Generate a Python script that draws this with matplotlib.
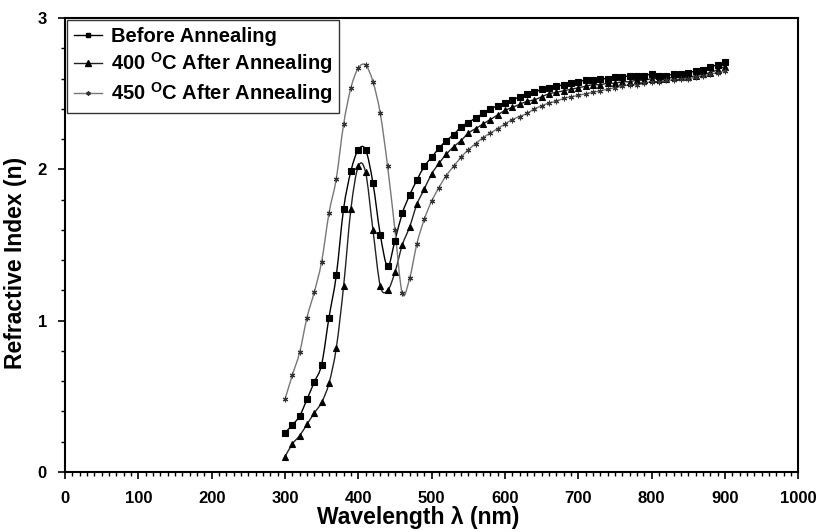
import numpy as np
import matplotlib
matplotlib.use("Agg")
import matplotlib.pyplot as plt
from matplotlib.path import Path
from matplotlib.patches import PathPatch
from matplotlib.lines import Line2D
from matplotlib.ticker import MultipleLocator

plt.rcParams['font.family'] = ['Liberation Sans', 'DejaVu Sans']
plt.rcParams['mathtext.fontset'] = 'custom'
plt.rcParams['mathtext.rm'] = 'Liberation Sans:bold'
plt.rcParams['mathtext.bf'] = 'Liberation Sans:bold'

# wavelength (nm), one point every 10 nm
wavelength = list(range(300, 910, 10))

before = [0.26, 0.31, 0.37, 0.48, 0.595, 0.71, 1.02, 1.30, 1.74, 1.99,
          2.13, 2.13, 1.91, 1.57, 1.36, 1.53, 1.71, 1.83, 1.93, 2.02,
          2.08, 2.14, 2.19, 2.23, 2.28, 2.31, 2.34, 2.37, 2.40, 2.42,
          2.44, 2.46, 2.48, 2.50, 2.51, 2.53, 2.54, 2.55, 2.56, 2.57,
          2.58, 2.59, 2.59, 2.60, 2.60, 2.61, 2.61, 2.62, 2.62, 2.62,
          2.63, 2.62, 2.62, 2.63, 2.63, 2.64, 2.65, 2.66, 2.68, 2.69,
          2.71]

after400 = [0.10, 0.185, 0.24, 0.315, 0.39, 0.46, 0.586, 0.82, 1.23, 1.74,
            2.02, 1.98, 1.60, 1.23, 1.20, 1.32, 1.50, 1.62, 1.77, 1.87,
            1.97, 2.04, 2.10, 2.15, 2.19, 2.24, 2.27, 2.30, 2.33, 2.36,
            2.39, 2.41, 2.43, 2.45, 2.46, 2.48, 2.50, 2.51, 2.52, 2.53,
            2.54, 2.55, 2.56, 2.56, 2.57, 2.57, 2.58, 2.58, 2.59, 2.59,
            2.60, 2.60, 2.60, 2.61, 2.61, 2.61, 2.62, 2.63, 2.64, 2.66,
            2.68]

after450 = [0.48, 0.64, 0.79, 1.02, 1.19, 1.39, 1.71, 1.94, 2.30, 2.54,
            2.67, 2.69, 2.58, 2.37, 2.02, 1.60, 1.18, 1.28, 1.51, 1.67,
            1.79, 1.88, 1.96, 2.02, 2.08, 2.13, 2.17, 2.21, 2.24, 2.27,
            2.30, 2.33, 2.35, 2.37, 2.40, 2.42, 2.44, 2.45, 2.47, 2.48,
            2.49, 2.50, 2.51, 2.52, 2.53, 2.54, 2.55, 2.56, 2.56, 2.57,
            2.58, 2.58, 2.59, 2.59, 2.60, 2.60, 2.61, 2.62, 2.63, 2.64,
            2.65]

labels = ["Before Annealing",
          r"400 $^{\mathbf{O}}$C After Annealing",
          r"450 $^{\mathbf{O}}$C After Annealing"]


def smooth_path(x, y):
    # excel style smoothed line: catmull-rom turned into bezier segments
    pts = np.column_stack([x, y]).astype(float)
    n = len(pts)
    verts = [pts[0]]
    codes = [Path.MOVETO]
    for i in range(n - 1):
        p0 = pts[max(i - 1, 0)]
        p1 = pts[i]
        p2 = pts[i + 1]
        p3 = pts[min(i + 2, n - 1)]
        verts += [p1 + (p2 - p0) / 6, p2 - (p3 - p1) / 6, p2]
        codes += [Path.CURVE4] * 3
    return Path(verts, codes)


fig = plt.figure(figsize=(8.21, 5.32), dpi=100)
ax = fig.add_axes([0.0792, 0.1128, 0.893, 0.853])

styles = [
    dict(marker='s', ms=4.5, mfc='black', mec='black', lc='black'),
    dict(marker='^', ms=5, mfc='black', mec='black', lc='#222222'),
    dict(marker=(6, 2, 0), ms=4, mfc='black', mec='#333333', lc='#777777'),
]
handles = []
for ys, st, lab in zip([before, after400, after450], styles, labels):
    ax.add_patch(PathPatch(smooth_path(wavelength, ys), facecolor='none',
                           edgecolor=st['lc'], lw=1.0, zorder=2))
    ax.plot(wavelength, ys, ls='none', marker=st['marker'], ms=st['ms'],
            mfc=st['mfc'], mec=st['mec'], mew=0.8, zorder=3)
    handles.append(Line2D([], [], color=st['lc'], lw=1.0, marker=st['marker'],
                          ms=st['ms'] - 1, mfc=st['mfc'], mec=st['mec'], label=lab))

ax.set_xlim(0, 1000)
ax.set_ylim(0, 3)
ax.xaxis.set_major_locator(MultipleLocator(100))
ax.xaxis.set_minor_locator(MultipleLocator(10))
ax.yaxis.set_major_locator(MultipleLocator(1))
ax.yaxis.set_minor_locator(MultipleLocator(0.2))
ax.tick_params(which='major', direction='out', length=5, width=1.2, labelsize=12)
ax.tick_params(axis='x', which='major', pad=9)
ax.tick_params(axis='y', which='major', pad=8)
ax.tick_params(which='minor', direction='out', length=3, width=1.0)
for t in ax.get_xticklabels() + ax.get_yticklabels():
    t.set_fontweight('bold')
for s in ax.spines.values():
    s.set_linewidth(1.5)

ax.set_xlabel("Wavelength λ (nm)", fontsize=16.5, fontweight='bold', labelpad=0)
ax.set_ylabel("Refractive Index (n)", fontsize=16.5, fontweight='bold', labelpad=8)
ax.xaxis.label.set_x(0.482)
ax.yaxis.label.set_y(0.46)

leg = ax.legend(handles=handles, loc='upper left', bbox_to_anchor=(0.003, 0.997),
                prop={'weight': 'bold', 'size': 14.5}, frameon=True,
                fancybox=False, edgecolor='black', handlelength=1.4,
                handletextpad=0.4, borderpad=0.35, labelspacing=0.22,
                borderaxespad=0)
leg.get_frame().set_linewidth(1.0)

fig.savefig("out.png", dpi=100)
